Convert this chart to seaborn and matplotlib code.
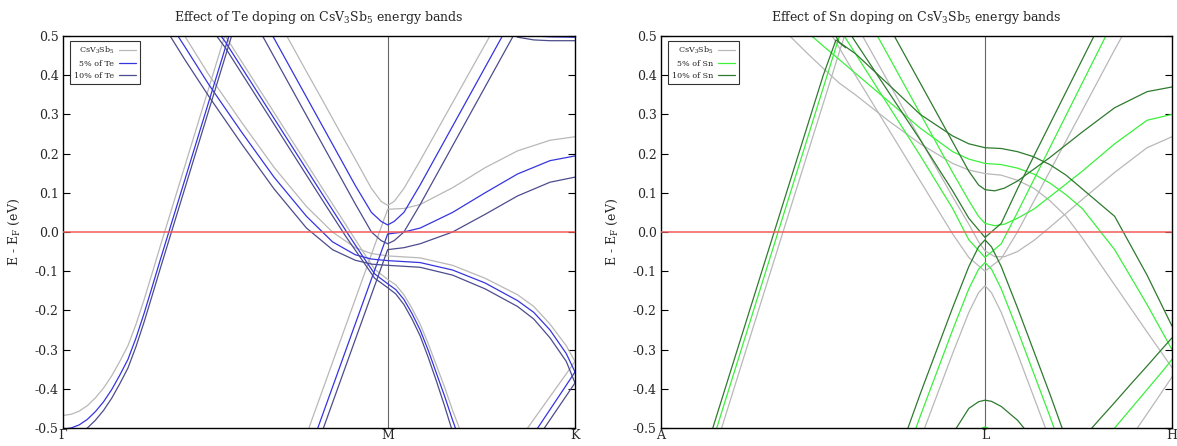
import numpy as np
import pandas as pd
import matplotlib
matplotlib.use("Agg")
import matplotlib.pyplot as plt
import seaborn as sns
from matplotlib.lines import Line2D

# ---------------- Te panel (Gamma - M - K), k in units of |Gamma-M| ----------------
TE_TICKS = [0.0, 1.0, 1.577]
TE_TICK_LABELS = ["Γ", "M", "K"]
TE_LABELS = ["CsV$_3$Sb$_5$", "5% of Te", "10% of Te"]

TE_K_B1 = [0.0, 0.025, 0.05, 0.075, 0.1, 0.125, 0.15, 0.175, 0.2, 0.225, 0.25, 0.275, 0.3, 0.35, 0.4, 0.45, 0.5, 0.55]
TE_B1_P = [-0.468, -0.465, -0.457, -0.443, -0.423, -0.398, -0.367, -0.33, -0.29, -0.235, -0.172, -0.104, -0.035, 0.1, 0.235, 0.37, 0.505, 0.64]
TE_B1_5 = [-0.503, -0.5, -0.492, -0.478, -0.458, -0.433, -0.402, -0.365, -0.325, -0.27, -0.207, -0.139, -0.07, 0.065, 0.2, 0.335, 0.47, 0.605]
TE_B1_10 = [-0.525, -0.522, -0.514, -0.5, -0.48, -0.455, -0.424, -0.387, -0.347, -0.292, -0.229, -0.161, -0.092, 0.043, 0.178, 0.313, 0.448, 0.583]

TE_K_B2 = [0.33, 0.375, 0.45, 0.55, 0.65, 0.75, 0.83, 0.9, 0.95, 1.0, 1.1, 1.2, 1.3, 1.4, 1.45, 1.5, 1.55, 1.577]
TE_B2_P = [0.56, 0.5, 0.4, 0.28, 0.165, 0.065, 0.0, -0.04, -0.055, -0.061, -0.066, -0.085, -0.118, -0.16, -0.19, -0.235, -0.29, -0.33]
TE_B2_5 = [0.531, 0.473, 0.375, 0.255, 0.14, 0.04, -0.025, -0.058, -0.069, -0.073, -0.078, -0.097, -0.13, -0.175, -0.205, -0.25, -0.31, -0.357]
TE_B2_10 = [0.5, 0.44, 0.345, 0.225, 0.11, 0.01, -0.045, -0.072, -0.082, -0.085, -0.09, -0.11, -0.145, -0.19, -0.222, -0.27, -0.33, -0.385]

TE_K_B3 = [0.46, 0.5, 0.6, 0.7, 0.8, 0.87, 0.92, 0.96, 1.0, 1.025, 1.05, 1.075, 1.1, 1.125, 1.15, 1.175, 1.2, 1.23]
TE_B3_P = [0.545, 0.5, 0.37, 0.24, 0.11, 0.02, -0.045, -0.095, -0.121, -0.135, -0.16, -0.195, -0.235, -0.285, -0.34, -0.395, -0.455, -0.52]
TE_B3_5 = [0.53, 0.485, 0.355, 0.225, 0.095, 0.005, -0.058, -0.107, -0.132, -0.147, -0.172, -0.208, -0.25, -0.302, -0.36, -0.418, -0.48, -0.55]
TE_B3_10 = [0.515, 0.47, 0.34, 0.21, 0.08, -0.01, -0.07, -0.118, -0.142, -0.158, -0.185, -0.222, -0.265, -0.32, -0.38, -0.443, -0.51, -0.58]

TE_K_B4 = [0.74, 0.8, 0.85, 0.9, 0.95, 1.0, 1.05, 1.1, 1.2, 1.3, 1.4, 1.5, 1.577]
TE_B4_P = [-0.54, -0.402, -0.287, -0.172, -0.057, 0.058, 0.06, 0.07, 0.113, 0.164, 0.207, 0.234, 0.243]
TE_B4_5 = [-0.603, -0.465, -0.35, -0.235, -0.12, -0.005, 0.0, 0.01, 0.05, 0.1, 0.148, 0.182, 0.194]
TE_B4_10 = [-0.643, -0.505, -0.39, -0.275, -0.16, -0.045, -0.04, -0.03, 0.0, 0.045, 0.092, 0.127, 0.14]

TE_K_B5 = [0.6, 0.65, 0.7, 0.75, 0.8, 0.85, 0.9, 0.95, 0.98, 1.0, 1.02, 1.05, 1.1, 1.15, 1.2, 1.25, 1.3, 1.35, 1.4]
TE_B5_P = [0.633, 0.558, 0.484, 0.409, 0.335, 0.26, 0.186, 0.111, 0.078, 0.068, 0.078, 0.111, 0.182, 0.256, 0.33, 0.404, 0.478, 0.552, 0.626]
TE_B5_5 = [0.569, 0.494, 0.419, 0.344, 0.269, 0.194, 0.119, 0.05, 0.027, 0.018, 0.027, 0.05, 0.12, 0.195, 0.27, 0.345, 0.42, 0.495, 0.57]
TE_B5_10 = [0.522, 0.447, 0.372, 0.297, 0.222, 0.147, 0.072, 0.0, -0.022, -0.03, -0.022, 0.0, 0.07, 0.145, 0.22, 0.295, 0.37, 0.445, 0.52]

TE_K_B6 = [1.36, 1.4, 1.45, 1.5, 1.577]
TE_B6_P = [0.6, 0.57, 0.56, 0.555, 0.555]
TE_B6_5 = [0.54, 0.507, 0.5, 0.498, 0.497]
TE_B6_10 = [0.53, 0.497, 0.49, 0.488, 0.488]

TE_K_B7 = [1.4, 1.45, 1.5, 1.55, 1.577]
TE_B7_P = [-0.536, -0.478, -0.42, -0.362, -0.33]
TE_B7_5 = [-0.574, -0.515, -0.453, -0.391, -0.357]
TE_B7_10 = [-0.6, -0.54, -0.479, -0.418, -0.385]

# ---------------- Sn panel (A - L - H) ----------------
SN_TICKS = [0.0, 1.0, 1.577]
SN_TICK_LABELS = ["A", "L", "H"]
SN_LABELS = ["CsV$_3$Sb$_5$", "5% of Sn", "10% of Sn"]

SN_K_R1 = [0.15, 0.2, 0.3, 0.4, 0.5, 0.54, 0.57]
SN_R1_P = [-0.598, -0.466, -0.202, 0.062, 0.326, 0.432, 0.51]
SN_R1_5 = [-0.558, -0.426, -0.162, 0.102, 0.366, 0.472, 0.55]
SN_R1_10 = [-0.526, -0.394, -0.13, 0.134, 0.398, 0.49, 0.47]

SN_K_R2 = [0.35, 0.4, 0.45, 0.5, 0.55, 0.6, 0.7, 0.8, 0.9, 0.95, 1.0, 1.05, 1.1, 1.15, 1.2, 1.25, 1.3, 1.4, 1.5, 1.577]
SN_R2_P = [0.54, 0.498, 0.457, 0.418, 0.38, 0.35, 0.285, 0.225, 0.175, 0.158, 0.149, 0.145, 0.132, 0.112, 0.08, 0.04, -0.015, -0.135, -0.255, -0.346]
SN_R2_5 = [0.6, 0.55, 0.511, 0.475, 0.44, 0.405, 0.335, 0.265, 0.205, 0.186, 0.175, 0.172, 0.163, 0.148, 0.125, 0.095, 0.06, -0.045, -0.185, -0.30]
SN_R2_10 = [0.68, 0.64, 0.6, 0.56, 0.484, 0.455, 0.378, 0.3, 0.245, 0.225, 0.215, 0.213, 0.205, 0.192, 0.172, 0.145, 0.11, 0.04, -0.11, -0.24]

SN_K_R3 = [0.58, 0.62, 0.66, 0.7, 0.75, 0.8, 0.85, 0.9, 0.95, 0.98, 1.0, 1.03, 1.06, 1.1, 1.15, 1.2, 1.3, 1.4, 1.5, 1.577]
SN_R3_P = [0.562, 0.503, 0.444, 0.385, 0.311, 0.237, 0.163, 0.09, 0.02, -0.025, -0.048, -0.063, -0.063, -0.05, -0.022, 0.012, 0.083, 0.152, 0.215, 0.243]
SN_R3_5 = [0.632, 0.572, 0.512, 0.452, 0.377, 0.302, 0.227, 0.152, 0.08, 0.04, 0.022, 0.016, 0.02, 0.035, 0.058, 0.09, 0.155, 0.225, 0.285, 0.30]
SN_R3_10 = [0.71, 0.65, 0.59, 0.53, 0.455, 0.38, 0.305, 0.23, 0.155, 0.12, 0.108, 0.105, 0.112, 0.13, 0.16, 0.19, 0.255, 0.317, 0.358, 0.37]

SN_K_R4 = [0.5, 0.55, 0.6, 0.7, 0.8, 0.9, 0.95, 1.0, 1.05, 1.1, 1.2, 1.3, 1.4, 1.45]
SN_R4_P = [0.54, 0.47, 0.4, 0.265, 0.13, -0.005, -0.065, -0.1, -0.068, 0.0, 0.155, 0.31, 0.465, 0.54]
SN_R4_5 = [0.59, 0.52, 0.455, 0.325, 0.195, 0.06, -0.02, -0.065, -0.03, 0.05, 0.215, 0.38, 0.545, 0.63]
SN_R4_10 = [0.61, 0.55, 0.485, 0.36, 0.235, 0.105, 0.035, -0.014, 0.022, 0.11, 0.275, 0.44, 0.605, 0.69]

SN_K_R5 = [0.7, 0.75, 0.8, 0.85, 0.9, 0.95, 0.98, 1.0, 1.02, 1.05, 1.1, 1.15, 1.2, 1.25, 1.3]
SN_R5_P = [-0.76, -0.645, -0.53, -0.42, -0.31, -0.205, -0.155, -0.137, -0.155, -0.205, -0.31, -0.42, -0.53, -0.645, -0.76]
SN_R5_5 = [-0.7, -0.585, -0.47, -0.36, -0.25, -0.145, -0.095, -0.078, -0.095, -0.145, -0.25, -0.36, -0.47, -0.585, -0.7]
SN_R5_10 = [-0.643, -0.528, -0.413, -0.303, -0.193, -0.088, -0.038, -0.02, -0.038, -0.088, -0.193, -0.303, -0.413, -0.528, -0.643]

SN_K_R6 = [0.88, 0.9, 0.95, 0.98, 1.0, 1.02, 1.05, 1.1, 1.15]
SN_R6_P = [-0.75, -0.72, -0.65, -0.62, -0.61, -0.62, -0.64, -0.68, -0.73]
SN_R6_5 = [-0.66, -0.63, -0.55, -0.505, -0.497, -0.505, -0.53, -0.58, -0.63]
SN_R6_10 = [-0.56, -0.515, -0.45, -0.433, -0.429, -0.432, -0.445, -0.48, -0.53]

SN_K_R7 = [1.25, 1.3, 1.35, 1.4, 1.45, 1.5, 1.55, 1.577]
SN_R7_P = [-0.766, -0.706, -0.645, -0.585, -0.524, -0.464, -0.403, -0.37]
SN_R7_5 = [-0.647, -0.598, -0.549, -0.5, -0.451, -0.402, -0.353, -0.325]
SN_R7_10 = [-0.575, -0.528, -0.481, -0.435, -0.388, -0.342, -0.295, -0.27]

Y_TICKS = [-0.5, -0.4, -0.3, -0.2, -0.1, 0.0, 0.1, 0.2, 0.3, 0.4, 0.5]
Y_TICK_LABELS = ["-0.5", "-0.4", "-0.3", "-0.2", "-0.1", "0.0", "0.1", "0.2", "0.3", "0.4", "0.5"]

TE_COLORS = ["#b8b8b8", "#3535e0", "#4c4c8e"]
SN_COLORS = ["#b8b8b8", "#3cf03c", "#2e7a2e"]

te_bands = [
    (TE_K_B1, TE_B1_P, TE_B1_5, TE_B1_10),
    (TE_K_B2, TE_B2_P, TE_B2_5, TE_B2_10),
    (TE_K_B3, TE_B3_P, TE_B3_5, TE_B3_10),
    (TE_K_B4, TE_B4_P, TE_B4_5, TE_B4_10),
    (TE_K_B5, TE_B5_P, TE_B5_5, TE_B5_10),
    (TE_K_B6, TE_B6_P, TE_B6_5, TE_B6_10),
    (TE_K_B7, TE_B7_P, TE_B7_5, TE_B7_10),
]
sn_bands = [
    (SN_K_R1, SN_R1_P, SN_R1_5, SN_R1_10),
    (SN_K_R2, SN_R2_P, SN_R2_5, SN_R2_10),
    (SN_K_R3, SN_R3_P, SN_R3_5, SN_R3_10),
    (SN_K_R4, SN_R4_P, SN_R4_5, SN_R4_10),
    (SN_K_R5, SN_R5_P, SN_R5_5, SN_R5_10),
    (SN_K_R6, SN_R6_P, SN_R6_5, SN_R6_10),
    (SN_K_R7, SN_R7_P, SN_R7_5, SN_R7_10),
]


def build(bands, labels):
    rows = []
    for bi, (k, *series) in enumerate(bands):
        for lab, e in zip(labels, series):
            for kk, ee in zip(k, e):
                rows.append((bi, lab, kk, ee))
    return pd.DataFrame(rows, columns=["band", "dataset", "k", "E"])


sns.set_theme(style="white")
plt.rcParams["font.family"] = ["DejaVu Serif"]
plt.rcParams["mathtext.fontset"] = "dejavuserif"
plt.rcParams["mathtext.default"] = "regular"
plt.rcParams["axes.unicode_minus"] = False

fig = plt.figure(figsize=(11.77, 4.46), dpi=100)
W, H = 1177, 446
axL = fig.add_axes([63 / W, 1 - 428 / H, (575 - 63) / W, (428 - 36) / H])
axR = fig.add_axes([661 / W, 1 - 428 / H, (1172 - 661) / W, (428 - 36) / H])

panels = [
    (axL, te_bands, TE_LABELS, TE_COLORS, TE_TICKS, TE_TICK_LABELS,
     "Effect of Te doping on CsV$_3$Sb$_5$ energy bands"),
    (axR, sn_bands, SN_LABELS, SN_COLORS, SN_TICKS, SN_TICK_LABELS,
     "Effect of Sn doping on CsV$_3$Sb$_5$ energy bands"),
]

for ax, bands, labels, colors, xt, xtl, title in panels:
    df = build(bands, labels)
    ax.axvline(xt[1], color="#666666", lw=0.8, zorder=1)
    sns.lineplot(data=df, x="k", y="E", hue="dataset", units="band",
                 estimator=None, sort=False, hue_order=labels,
                 palette=dict(zip(labels, colors)), linewidth=0.9,
                 legend=False, ax=ax, zorder=2)
    ax.axhline(0.0, color="#f25a5a", lw=1.1, zorder=3)
    ax.set_xlim(xt[0], xt[-1])
    ax.set_ylim(-0.5, 0.5)
    ax.set_xticks(xt)
    ax.set_xticklabels(xtl, fontsize=9)
    ax.set_yticks(Y_TICKS)
    ax.set_yticklabels(Y_TICK_LABELS, fontsize=9)
    ax.tick_params(axis="y", direction="in", length=5, width=0.8,
                   left=True, right=True, color="black", pad=3)
    ax.tick_params(axis="x", length=0, pad=1)
    for s in ax.spines.values():
        s.set_color("black")
        s.set_linewidth(1.0)
    ax.set_xlabel("")
    ax.set_ylabel("E - E$_F$ (eV)", fontsize=9, labelpad=9)
    ax.set_title(title, fontsize=9, pad=11)
    handles = [Line2D([0], [0], color=c, lw=0.9) for c in colors]
    leg = ax.legend(handles, labels, loc="upper left",
                    bbox_to_anchor=(0.014, 0.987), borderaxespad=0,
                    frameon=True, fancybox=False, edgecolor="black",
                    fontsize=5.8, markerfirst=False, handlelength=2.1,
                    handletextpad=0.6, borderpad=0.5, labelspacing=0.45)
    leg.get_frame().set_linewidth(0.8)
    leg.set_zorder(5)

fig.savefig("out.png", dpi=100)
